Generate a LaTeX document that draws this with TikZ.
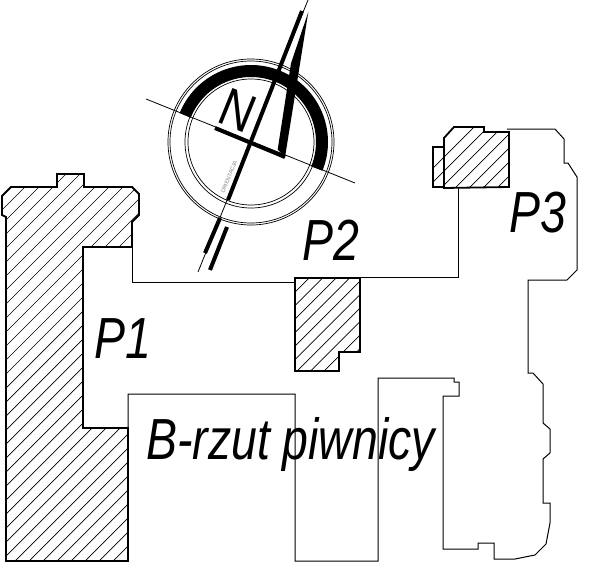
\documentclass[tikz,border=0pt]{standalone}
\usepackage{fontspec}
\setmainfont{Liberation Sans}
\tikzset{
  wall/.style={black, line width=1.8pt, line join=miter},
  thinwall/.style={black, line width=1pt},
  hatchline/.style={black, line width=0.7pt},
  ring/.style={black, line width=0.7pt},
  label/.style={font=\itshape\fontsize{58}{58}\selectfont, xscale=0.8, inner sep=0pt, anchor=base west}
}
\newcommand{\hatchfill}[2]{\foreach \c in {#1,#2,...,1300} \draw[hatchline] (\c,0) -- (0,\c);}

\begin{document}
\begin{tikzpicture}[x=1pt,y=-1pt]
\useasboundingbox (0,0) rectangle (600,573);

% Hatched blocks
\begin{scope}
\clip (2,196) -- (11,187) -- (57,187) -- (57,174) -- (84,174) -- (84,187) -- (132,187) -- (139,194) -- (139,215) -- (132,222) -- (132,247) -- (83,247) -- (83,428) -- (128,428) -- (128,561) -- (6,561) -- (6,217) -- (2,215) -- cycle;
\hatchfill{212}{226}
\end{scope}
\begin{scope}
\clip (295,278) -- (360,278) -- (360,352) -- (339,352) -- (339,371) -- (295,371) -- cycle;
\hatchfill{587}{600.5}
\end{scope}
\begin{scope}
\clip (444,188) -- (444,138) -- (454,127) -- (484,127) -- (484,132) -- (509,132) -- (509,187) -- cycle;
\hatchfill{601}{615}
\end{scope}
\begin{scope}
\clip (433,147) -- (444,147) -- (444,187) -- (433,187) -- cycle;
\hatchfill{601}{615}
\end{scope}

% Outer walls
\draw[thinwall] (132,247) -- (132,282) -- (295,282);
\draw[thinwall] (295,277) -- (458,277) -- (458,187);
\draw[thinwall] (507,129) -- (555,129) -- (564,139) -- (564,163) -- (568,163) -- (577,177) -- (577,270) -- (567,280) -- (528,280) -- (528,373) -- (533,373) -- (543,384) -- (543,423) -- (550,429) -- (550,453) -- (543,459) -- (543,503) -- (550,503) -- (550,523) -- (546,544) -- (535,555) -- (515,559) -- (494,559) -- (494,543) -- (478,543) -- (478,549) -- (443,549) -- (443,396) -- (459,396) -- (459,382) -- (454,382) -- (454,378) -- (378,378) -- (378,561) -- (295,561) -- (295,394) -- (128,394) -- (128,428);

% Block outlines
\draw[wall] (2,196) -- (11,187) -- (57,187) -- (57,174) -- (84,174) -- (84,187) -- (132,187) -- (139,194) -- (139,215) -- (132,222) -- (132,247) -- (83,247) -- (83,428) -- (128,428) -- (128,561) -- (6,561) -- (6,217) -- (2,215) -- cycle;
\draw[wall] (295,278) -- (360,278) -- (360,352) -- (339,352) -- (339,371) -- (295,371) -- cycle;
\draw[wall] (444,188) -- (444,138) -- (454,127) -- (484,127) -- (484,132) -- (509,132) -- (509,187) -- cycle;
\draw[wall] (444,147) -- (433,147) -- (433,187) -- (444,187);

% Compass
\coordinate (centre) at (251,142);
\foreach \r in {83,81,66,63} \draw[ring] (centre) circle[radius=\r];
\draw[line width=12pt, domain=202:382, samples=90] plot ({251+71*cos(\x)},{142+71*sin(\x)});
\draw[line width=0.8pt] (146,99) -- (355,183);
\draw[line width=4pt] (215,128) -- (285,157);
\draw[line width=0.8pt] (198,272) -- (308,0);
\draw[line width=4pt] (228,200) -- (302,11);
\draw[line width=4pt] (220,218) -- (205,253);
\draw[line width=4pt] (227,227) -- (210,270);
\fill (277.7,149.5) -- (285,157.3) -- (308.3,12) -- (291,63.3) -- cycle;
\node[font=\fontsize{54}{54}\selectfont, rotate=-22, xscale=0.85, inner sep=0pt] (north) at (238,110) {N};
\node[font=\fontsize{5.5}{5.5}\selectfont, text=gray, rotate=68, inner sep=0pt] (orient) at (229,177) {ORIENTACJA};

% Labels
\node[label] (p1) at (94,358) {P1};
\node[label] (p2) at (302,260) {P2};
\node[label] (p3) at (509,232) {P3};
\node[label] (title) at (146,459) {B-rzut piwnicy};
\end{tikzpicture}
\end{document}
